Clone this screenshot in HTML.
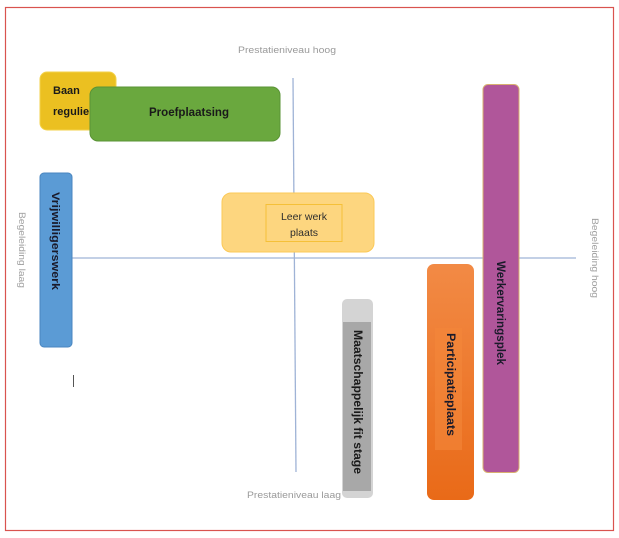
<!DOCTYPE html>
<html><head><meta charset="utf-8"><style>
html,body{margin:0;padding:0;background:#fff;}
svg{display:block;}
text{font-family:"Liberation Sans",sans-serif;}
</style></head><body>
<svg width="619" height="538" viewBox="0 0 619 538" xmlns="http://www.w3.org/2000/svg">
<defs>
<linearGradient id="og" x1="0" y1="0" x2="0" y2="1">
<stop offset="0" stop-color="#f28a45"/><stop offset="1" stop-color="#e96a18"/>
</linearGradient>
</defs>
<rect x="0" y="0" width="619" height="538" fill="#fff"/>
<rect x="5.5" y="7.5" width="608" height="523" fill="#fff" stroke="#d9534f" stroke-width="1.2"/>

<!-- axes -->
<line x1="293" y1="78" x2="296" y2="472" stroke="#9fb3d6" stroke-width="1.3"/>
<line x1="72" y1="258" x2="576" y2="258" stroke="#9fb3d6" stroke-width="1.3"/>

<!-- axis labels -->
<text x="238" y="53" font-size="9" fill="#9a9a9a" textLength="98" lengthAdjust="spacingAndGlyphs">Prestatieniveau hoog</text>
<text x="247" y="498" font-size="9" fill="#9a9a9a" textLength="94" lengthAdjust="spacingAndGlyphs">Prestatieniveau laag</text>
<text transform="translate(19,212) rotate(90)" font-size="9" fill="#a0a0a0" textLength="76" lengthAdjust="spacingAndGlyphs">Begeleiding laag</text>
<text transform="translate(592,218) rotate(90)" font-size="9" fill="#a0a0a0" textLength="80" lengthAdjust="spacingAndGlyphs">Begeleiding hoog</text>

<!-- Baan regulier -->
<rect x="40" y="72" width="76" height="58" rx="7" fill="#ebc021" stroke="#f3d24a" stroke-width="1"/>
<text x="53" y="94" font-size="11" font-weight="bold" fill="#1a1a1a">Baan</text>
<text x="53" y="115" font-size="11" font-weight="bold" fill="#1a1a1a">regulie</text>

<!-- Proefplaatsing -->
<rect x="90" y="87" width="190" height="54" rx="8" fill="#6aa83e" stroke="#5a9336" stroke-width="1"/>
<text x="189" y="116" font-size="11.5" font-weight="bold" fill="#1a1a1a" text-anchor="middle" textLength="80" lengthAdjust="spacingAndGlyphs">Proefplaatsing</text>

<!-- Vrijwilligerswerk -->
<rect x="40" y="173" width="32" height="174" rx="4" fill="#5b9bd5" stroke="#4a86c0" stroke-width="1"/>
<text transform="translate(52,192) rotate(90)" font-size="11" font-weight="bold" fill="#1a1a2a" textLength="98" lengthAdjust="spacingAndGlyphs">Vrijwilligerswerk</text>

<!-- Leer werk plaats -->
<rect x="222" y="193" width="152" height="59" rx="9" fill="#fdd67f" stroke="#fbc957" stroke-width="1"/>
<rect x="266" y="204.5" width="76" height="37" fill="#fdd67f" stroke="#f5c038" stroke-width="1"/>
<text x="304" y="220" font-size="10.5" fill="#2e2e2e" text-anchor="middle">Leer werk</text>
<text x="304" y="236" font-size="10.5" fill="#2e2e2e" text-anchor="middle">plaats</text>

<!-- Werkervaringsplek -->
<rect x="483" y="84.5" width="36" height="388" rx="5" fill="#b0569a" stroke="#d8b070" stroke-width="1"/>
<text transform="translate(497,261) rotate(90)" font-size="11.5" font-weight="bold" fill="#1a1a2a" textLength="104" lengthAdjust="spacingAndGlyphs">Werkervaringsplek</text>

<!-- Participatieplaats -->
<rect x="427" y="264" width="47" height="236" rx="7" fill="url(#og)"/>
<rect x="435" y="328" width="27" height="122" fill="#f3873a" opacity="0.6"/>
<text transform="translate(447,333) rotate(90)" font-size="11.5" font-weight="bold" fill="#1a1a2a" textLength="103" lengthAdjust="spacingAndGlyphs">Participatieplaats</text>

<!-- Maatschappelijk fit stage -->
<rect x="342" y="299" width="31" height="199" rx="5" fill="#d4d4d4"/>
<rect x="343" y="322" width="28" height="169" fill="#a8a8a8"/>
<text transform="translate(354,330) rotate(90)" font-size="11.5" font-weight="bold" fill="#1a1a1a" textLength="144" lengthAdjust="spacingAndGlyphs">Maatschappelijk fit stage</text>

<!-- cursor mark -->
<line x1="73.5" y1="375" x2="73.5" y2="387" stroke="#555" stroke-width="1"/>
</svg>
</body></html>
